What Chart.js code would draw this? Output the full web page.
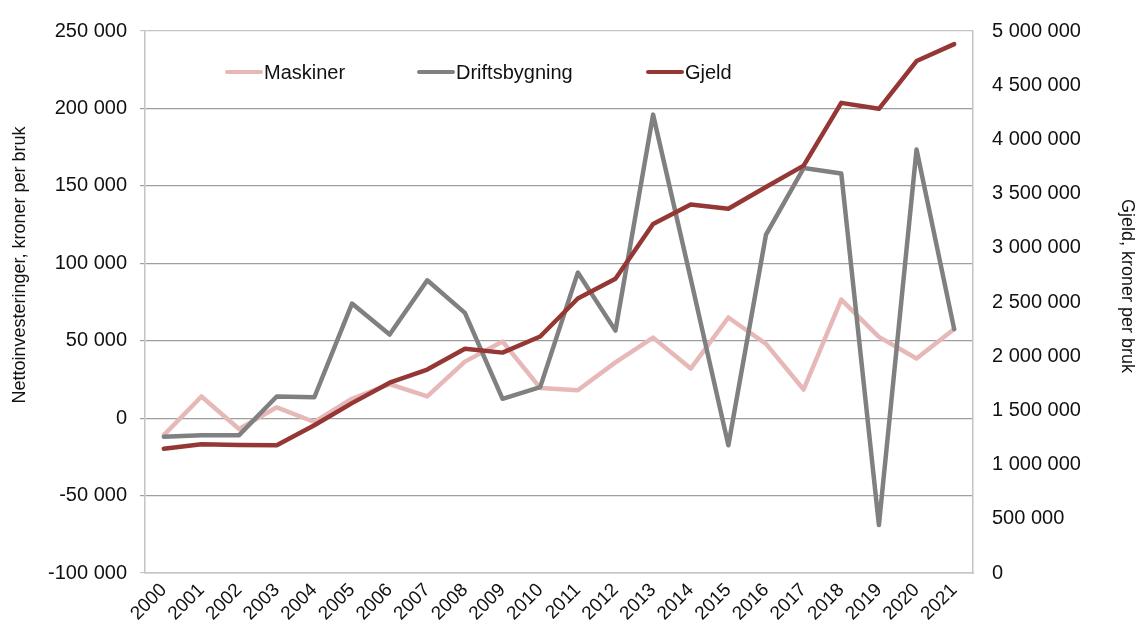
<!DOCTYPE html>
<html>
<head>
<meta charset="utf-8">
<script src="https://cdn.jsdelivr.net/npm/chart.js@4.4.0/dist/chart.umd.min.js"></script>
<style>
  body { margin: 0; background: #fff; }
  #wrap { width: 1138px; height: 632px; }
</style>
</head>
<body>
<div id="wrap"><canvas id="canvasInvest" width="1138" height="632"></canvas></div>
<script>
// data
const years = ["2000", "2001", "2002", "2003", "2004", "2005", "2006", "2007", "2008", "2009", "2010",
               "2011", "2012", "2013", "2014", "2015", "2016", "2017", "2018", "2019", "2020", "2021"];
const maskiner = [-11000, 14000, -7000, 7000, -2500, 12500, 22000, 14000, 36500, 49500, 19500,
                  18000, 36000, 52000, 32000, 65000, 48000, 18500, 76500, 52500, 38500, 57500];
const driftsbygning = [-12000, -11000, -11000, 14000, 13500, 74000, 54000, 89000, 68000, 12500, 20000,
                       94000, 56500, 196000, 90000, -17500, 118500, 161500, 158000, -69000, 173500, 57500];
const gjeld = [1147000, 1187000, 1181000, 1178000, 1363000, 1567000, 1756000, 1877000, 2069000, 2033000, 2182000,
               2532000, 2715000, 3220000, 3400000, 3360000, 3561000, 3758000, 4337000, 4282000, 4723000, 4879000];
const leftTicks = [-100000, 250000, 50000];   // min, max, step
const rightTicks = [0, 5000000, 500000];

const FONT = "'Liberation Sans', Arial, sans-serif";

function formatNumber(v)
{
    const s = String(Math.abs(v)).replace(/\B(?=(\d{3})+(?!\d))/g, ' ');
    return (v < 0 ? '-' : '') + s;
}

// legend drawn inside the plot, like the original
const insideLegend = {
    id: 'insideLegend',
    afterDatasetsDraw(chart, args, opts) {
        const ctx = chart.ctx;
        ctx.save();
        ctx.font = opts.size + 'px ' + FONT;
        ctx.textBaseline = 'middle';
        ctx.textAlign = 'left';
        chart.data.datasets.forEach((ds, i) => {
            const x = opts.xs[i];
            ctx.strokeStyle = ds.borderColor;
            ctx.lineWidth = 4;
            ctx.lineCap = 'round';
            ctx.beginPath();
            ctx.moveTo(x, opts.y);
            ctx.lineTo(x + opts.lineLen, opts.y);
            ctx.stroke();
            ctx.fillStyle = '#111';
            ctx.fillText(ds.label, x + opts.lineLen + 3, opts.y + 1);
        });
        ctx.restore();
    }
};

// axis titles sit a bit above the middle in the original
const axisTitles = {
    id: 'axisTitles',
    afterDraw(chart, args, opts) {
        const ctx = chart.ctx;
        ctx.save();
        ctx.font = opts.size + 'px ' + FONT;
        ctx.fillStyle = '#111';
        ctx.textAlign = 'center';
        ctx.textBaseline = 'middle';
        opts.items.forEach(t => {
            ctx.save();
            ctx.translate(t.x, t.y);
            ctx.rotate(t.rot);
            ctx.fillText(t.text, 0, 0);
            ctx.restore();
        });
        ctx.restore();
    }
};

const ctx = document.getElementById("canvasInvest").getContext("2d");

const chartInvest = new Chart(ctx, {
    type: 'line',
    data: {
        labels: years,
        datasets: [{
            label: "Maskiner",
            data: maskiner,
            borderColor: "#e6b9b8",
            backgroundColor: "#e6b9b8",
            yAxisID: 'y',
            order: 3
        }, {
            label: "Driftsbygning",
            data: driftsbygning,
            borderColor: "#808080",
            backgroundColor: "#808080",
            yAxisID: 'y',
            order: 2
        }, {
            label: "Gjeld",
            data: gjeld,
            borderColor: "#953735",
            backgroundColor: "#953735",
            yAxisID: 'y2',
            order: 1
        }]
    },
    options: {
        responsive: false,
        animation: false,
        layout: { padding: { top: 25, right: 0, bottom: 0, left: 0 } },
        elements: {
            line: { borderWidth: 4.5, tension: 0, borderJoinStyle: 'round', borderCapStyle: 'round' },
            point: { radius: 0, hoverRadius: 0 }
        },
        plugins: {
            legend: { display: false },
            tooltip: { enabled: false },
            insideLegend: { xs: [227, 419, 648], y: 72, lineLen: 34, size: 20 },
            axisTitles: {
                size: 18,
                items: [
                    { text: 'Nettoinvesteringer, kroner per bruk', x: 20, y: 265, rot: -Math.PI / 2 },
                    { text: 'Gjeld, kroner per bruk', x: 1127, y: 286, rot: Math.PI / 2 }
                ]
            }
        },
        scales: {
            x: {
                offset: true,
                grid: { display: false, drawTicks: false },
                border: { display: true, color: '#c4c4c4', width: 1.5 },
                ticks: {
                    autoSkip: false,
                    maxRotation: 45,
                    minRotation: 45,
                    padding: 6,
                    color: '#111',
                    font: { family: FONT, size: 19 }
                },
                afterFit(scale) { scale.height = 59; }
            },
            y: {
                position: 'left',
                min: leftTicks[0],
                max: leftTicks[1],
                ticks: {
                    stepSize: leftTicks[2],
                    padding: 13,
                    color: '#111',
                    font: { family: FONT, size: 20 },
                    callback: (v) => formatNumber(v)
                },
                grid: {
                    drawTicks: true,
                    tickLength: 5,
                    lineWidth: 1.2,
                    color: (c) => (c.tick && (c.tick.value === leftTicks[1] || c.tick.value === leftTicks[0])) ? '#c4c4c4' : '#9e9e9e'
                },
                border: { display: true, color: '#c4c4c4', width: 1.5 },
                title: { display: false },
                afterFit(scale) { scale.width = 145; }
            },
            y2: {
                position: 'right',
                min: rightTicks[0],
                max: rightTicks[1],
                ticks: {
                    stepSize: rightTicks[2],
                    padding: 19,
                    color: '#111',
                    font: { family: FONT, size: 20 },
                    callback: (v) => formatNumber(v)
                },
                grid: { display: false, drawTicks: false },
                border: { display: true, color: '#c4c4c4', width: 1.5 },
                title: { display: false },
                afterFit(scale) { scale.width = 165; }
            }
        }
    },
    plugins: [insideLegend, axisTitles]
});
</script>
</body>
</html>
